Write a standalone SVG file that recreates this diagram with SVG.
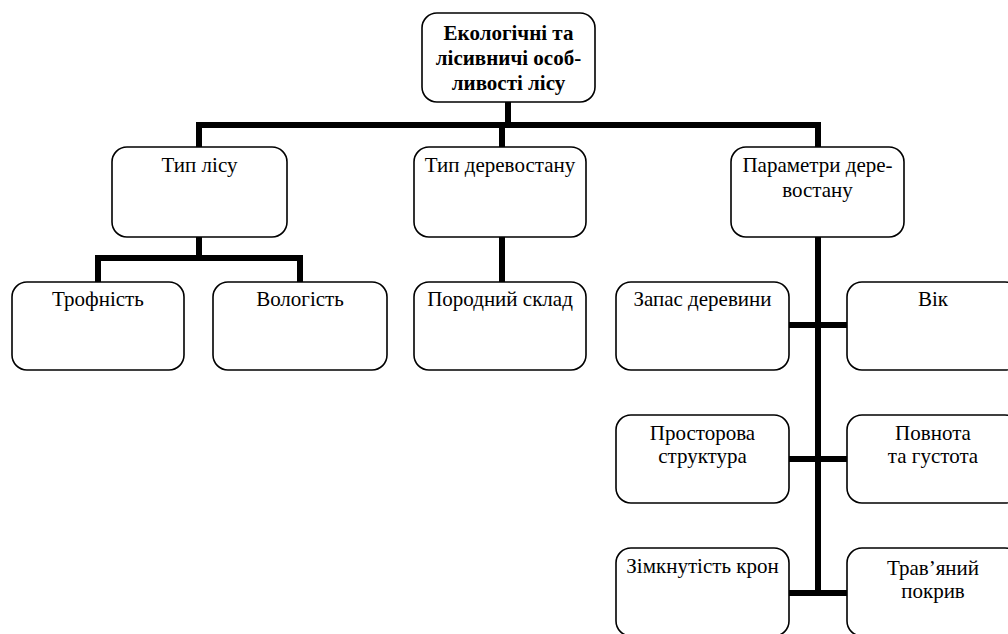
<svg xmlns="http://www.w3.org/2000/svg" width="1008" height="634" viewBox="0 0 1008 634">
<style>
.box{fill:#fff;stroke:#000;stroke-width:1.6}
.t{font-family:"Liberation Serif","Times New Roman",serif;font-size:21px;fill:#000;text-anchor:middle}
.b{font-weight:bold}
.c{stroke:#000;stroke-width:6;fill:none;stroke-linecap:butt;stroke-linejoin:miter}
</style>
<rect width="1008" height="634" fill="#fff"/>
<g id="connectors">
<path class="c" d="M508,102 V125"/>
<path class="c" d="M199,147 V125 H818 V147"/>
<path class="c" d="M502,125 V147"/>
<path class="c" d="M199,237 V258"/>
<path class="c" d="M98,282 V258 H300 V282"/>
<path class="c" d="M502,237 V282"/>
<path class="c" d="M818,237 V596"/>
<path class="c" d="M789,325 H847"/>
<path class="c" d="M789,459 H847"/>
<path class="c" d="M789,593 H847"/>
</g>
<g id="n-root"><rect class="box" x="422" y="13" width="173" height="89" rx="15"/>
<text class="t b" x="508.5" y="40">Екологічні та</text>
<text class="t b" x="508.5" y="65">лісивничі особ-</text>
<text class="t b" x="508.5" y="90">ливості лісу</text></g>
<g id="n-typ-lisu"><rect class="box" x="112" y="147" width="175" height="90" rx="15"/>
<text class="t" x="199.5" y="172">Тип лісу</text></g>
<g id="n-typ-derevostanu"><rect class="box" x="414" y="147" width="172" height="90" rx="15"/>
<text class="t" x="500" y="172">Тип деревостану</text></g>
<g id="n-parametry"><rect class="box" x="731" y="147" width="173" height="90" rx="15"/>
<text class="t" x="817.5" y="172">Параметри дере-</text>
<text class="t" x="817.5" y="197">востану</text></g>
<g id="n-trofnist"><rect class="box" x="12" y="282" width="172" height="88" rx="15"/>
<text class="t" x="98" y="306">Трофність</text></g>
<g id="n-volohist"><rect class="box" x="213" y="282" width="174" height="88" rx="15"/>
<text class="t" x="300" y="306">Вологість</text></g>
<g id="n-porodnyi"><rect class="box" x="414" y="282" width="172" height="88" rx="15"/>
<text class="t" x="500" y="306">Породний склад</text></g>
<g id="n-zapas"><rect class="box" x="616" y="282" width="173" height="88" rx="15"/>
<text class="t" x="702.5" y="306">Запас деревини</text></g>
<g id="n-vik"><rect class="box" x="847" y="282" width="173" height="88" rx="15"/>
<text class="t" x="933" y="306">Вік</text></g>
<g id="n-prostorova"><rect class="box" x="616" y="415" width="173" height="88" rx="15"/>
<text class="t" x="702.5" y="440">Просторова</text>
<text class="t" x="702.5" y="463">структура</text></g>
<g id="n-povnota"><rect class="box" x="847" y="415" width="173" height="88" rx="15"/>
<text class="t" x="933" y="440">Повнота</text>
<text class="t" x="933" y="463">та густота</text></g>
<g id="n-zimknutist"><rect class="box" x="616" y="548" width="173" height="88" rx="15"/>
<text class="t" x="702.5" y="573">Зімкнутість крон</text></g>
<g id="n-travianyi"><rect class="box" x="847" y="548" width="173" height="88" rx="15"/>
<text class="t" x="933" y="575">Трав’яний</text>
<text class="t" x="933" y="598">покрив</text></g>
</svg>
